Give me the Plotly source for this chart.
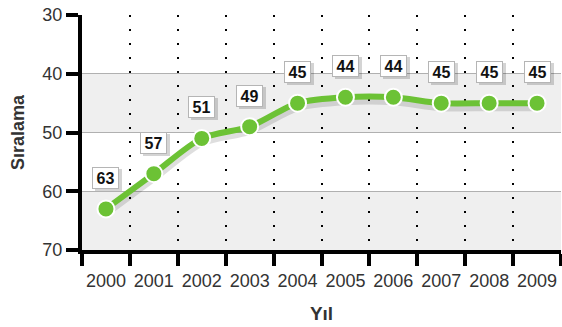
import plotly.graph_objects as go

years = ["2000", "2001", "2002", "2003", "2004", "2005", "2006", "2007", "2008", "2009"]
ranks = [63, 57, 51, 49, 45, 44, 44, 45, 45, 45]
y_ticks = [30, 40, 50, 60, 70]

green = "#6cc235"
font_family = "Liberation Sans, Arial, sans-serif"

fig = go.Figure()

# soft shadow under the line
fig.add_trace(go.Scatter(
    x=years, y=[r + 0.6 for r in ranks], mode="lines",
    line=dict(color="rgba(0,0,0,0.13)", width=9, shape="spline", smoothing=0.8),
    hoverinfo="skip", showlegend=False,
))
fig.add_trace(go.Scatter(
    x=years, y=ranks, mode="lines+markers",
    line=dict(color=green, width=6, shape="spline", smoothing=0.8),
    marker=dict(size=17, color=green, line=dict(color="white", width=2)),
    showlegend=False,
))

# alternating horizontal bands
for lo, hi in [(40, 50), (60, 70)]:
    fig.add_shape(type="rect", xref="paper", yref="y", x0=0, x1=1, y0=lo, y1=hi,
                  fillcolor="#efefef", line=dict(width=0), layer="below")

# value labels in boxes with a drop shadow (x given as category index)
for i, r in enumerate(ranks):
    fig.add_annotation(x=i, y=r, xref="x", yref="y", text=" ",
                       showarrow=False, yshift=29, xshift=3,
                       width=27, height=22, borderpad=0, borderwidth=0,
                       bgcolor="rgba(0,0,0,0.17)")
    fig.add_annotation(x=i, y=r, xref="x", yref="y", text=f"<b>{r}</b>",
                       showarrow=False, yshift=31,
                       width=25, height=20, borderpad=0,
                       font=dict(size=16, color="#111", family=font_family),
                       bgcolor="white", bordercolor="#b5b5b5", borderwidth=1)

fig.update_layout(
    width=562, height=327,
    margin=dict(l=82, r=1, t=15, b=77),
    plot_bgcolor="white", paper_bgcolor="white",
    font=dict(family=font_family, color="#333", size=17),
    xaxis=dict(
        type="category", categoryorder="array", categoryarray=years,
        tickson="boundaries", ticks="outside", ticklen=12, tickwidth=4, tickcolor="black",
        showline=True, linecolor="black", linewidth=4, tickangle=0,
        ticklabelstandoff=11,
        showgrid=True, gridcolor="black", gridwidth=2, griddash="2px,12px",
        tickfont=dict(size=18, color="#333"),
        title=dict(text="<b>Yıl</b>", font=dict(size=19, color="#333"), standoff=18),
        range=[-0.5, 9.5], fixedrange=True, automargin=False,
    ),
    yaxis=dict(
        range=[70, 30], tickvals=y_ticks, ticks="outside", ticklen=12, tickwidth=4,
        tickcolor="black", showline=True, linecolor="black", linewidth=4,
        showgrid=True, gridcolor="#b0b0b0", gridwidth=1,
        tickfont=dict(size=18, color="#333"),
        title=dict(text="<b>Sıralama</b>", font=dict(size=18, color="#333"), standoff=14),
        zeroline=False, fixedrange=True, automargin=False,
    ),
)

fig.write_html("out.html")
